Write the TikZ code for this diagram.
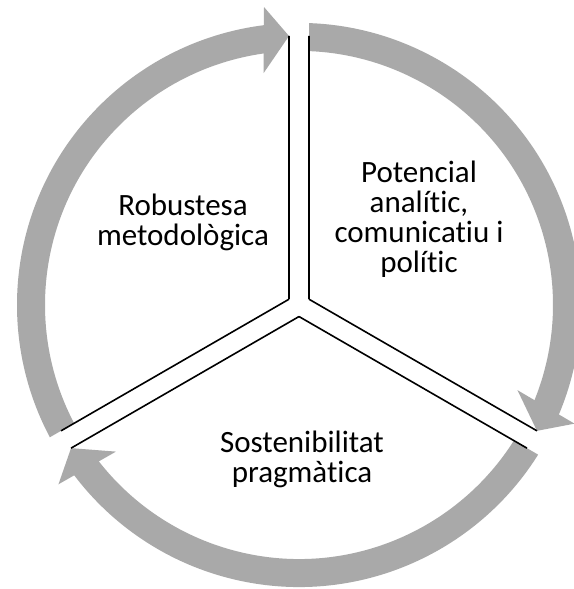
\documentclass[tikz,border=0pt]{standalone}
\usepackage{fontspec}
\setmainfont{Carlito}[Ligatures=NoCommon]
% keep "t" and "i" as separate glyphs
\newcommand{\tsep}{t\kern0pt i}
\begin{document}
\begin{tikzpicture}[x=1pt,y=1pt]
\definecolor{ringgray}{HTML}{A9A9A9}
\tikzset{
  divider/.style={black, line width=1.6pt},
  ringshaft/.style={draw=ringgray, line width=28pt},
  ringhead/.style={fill=ringgray, draw=none},
  sectorlabel/.style={font=\fontsize{31}{30}\selectfont, align=center, anchor=base, inner sep=0pt}
}
\useasboundingbox (0,0) rectangle (573,589);
\fill[white] (0,0) rectangle (573,589);
\coordinate (c) at (299,284);
% one sector of the cycle, drawn three times around the centre
\foreach \rot in {60,-60,180} {
  \begin{scope}[shift={(c)}, rotate=\rot]
    \coordinate (k) at (0,11.55);
    \coordinate (ea) at (227.96,143.16);
    \coordinate (eb) at (-227.96,143.16);
    \begin{scope}
      \clip (k) -- (514.6,308.7) -- (0,900) -- (-514.6,308.7) -- cycle;
      \draw[ringshaft] (165:268) arc[start angle=165, end angle=37, radius=268];
      \fill[ringhead] (38.7:234.5) -- (36.7:300) -- (ea) -- cycle;
    \end{scope}
    \draw[divider] (k) -- (ea);
    \draw[divider] (k) -- (eb);
  \end{scope}
}
% labels, placed by the baseline of their last line
\node[sectorlabel] (robust) at (183,343) {Robustesa\\metodològica};
\node[sectorlabel] (potencial) at (419,316) {Potencial\\analí\tsep c,\\comunica\tsep u i\\polí\tsep c};
\node[sectorlabel] (sosten) at (302,106) {Sostenibilitat\\pragmà\tsep ca};
\end{tikzpicture}
\end{document}
